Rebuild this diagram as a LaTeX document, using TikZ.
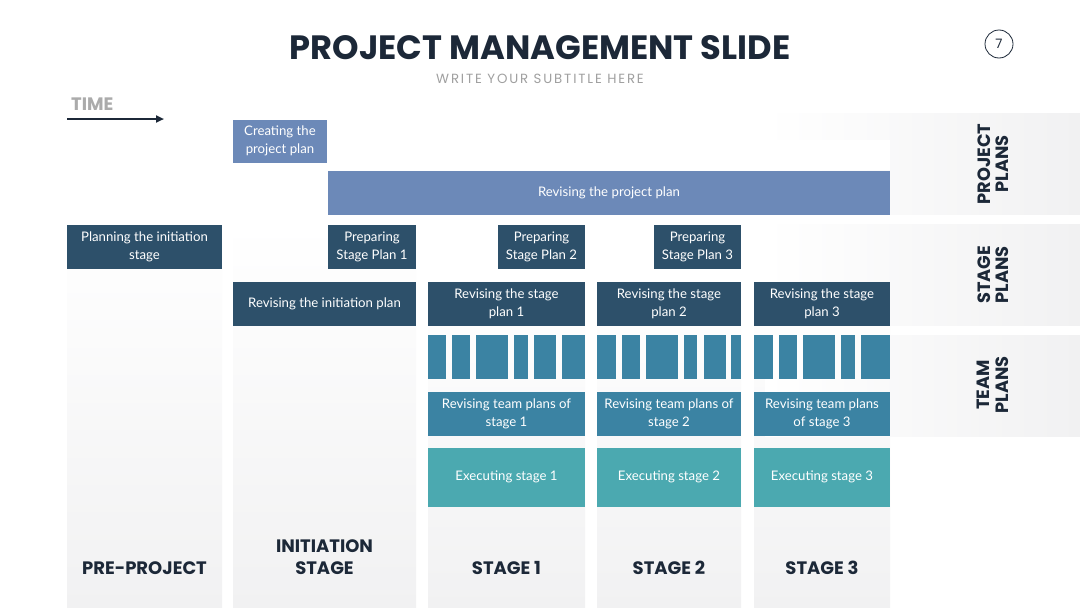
\documentclass[tikz,border=0pt]{standalone}
\usepackage{fontspec}
\setmainfont{Lato}
\newfontfamily\pop{Poppins}
\usetikzlibrary{arrows.meta}
\definecolor{projblue}{RGB}{108,137,184}
\definecolor{navy}{RGB}{45,80,106}
\definecolor{teamblue}{RGB}{59,131,163}
\definecolor{tealc}{RGB}{75,169,176}
\definecolor{titlec}{RGB}{28,40,56}
\definecolor{colbg}{RGB}{241,241,242}
\definecolor{subc}{RGB}{160,160,160}
\definecolor{timec}{RGB}{171,171,171}
\newcommand\bx[7]{\node[boxs,fill=#6,minimum width={#4-#2},minimum height={#5-#3}] (#1) at ({(#2+#4)/2},{(#3+#5)/2+0.8}) {#7};}
\begin{document}
\begin{tikzpicture}[x=1pt,y=-1pt,
  boxs/.style={rectangle,inner sep=0pt,text=white,align=center,font=\fontsize{13.2}{18}\selectfont},
  collabel/.style={font=\pop\bfseries\fontsize{18}{22}\selectfont,text=titlec,align=center},
  rowlabel/.style={font=\pop\bfseries\fontsize{17.8}{18.5}\selectfont,text=titlec,align=center,rotate=90},
  bar/.style={fill=teamblue}]
\useasboundingbox[fill=white] (0,0) rectangle (1080,608);
% column backgrounds
\shade[top color=white,bottom color=colbg] (67,224) rectangle (222,608);
\shade[top color=white,bottom color=colbg] (233,224) rectangle (416,608);
\shade[top color=white,bottom color=colbg] (428,281) rectangle (585,608);
\shade[top color=white,bottom color=colbg] (597,281) rectangle (741,608);
\shade[top color=white,bottom color=colbg] (754,281) rectangle (890,608);
% row bands
\shade[left color=white,right color=colbg] (765,113) rectangle (1080,214);
\fill[white] (765,140) rectangle (890,170);
\shade[left color=white,right color=colbg] (765,224) rectangle (1080,325);
\shade[left color=white,right color=colbg] (765,335) rectangle (1080,436);
% title
\node[font=\pop\bfseries\fontsize{33.7}{38}\selectfont,text=titlec] (title) at (540,48) {PROJECT MANAGEMENT SLIDE};
\node[font=\pop\fontsize{13.3}{15}\selectfont\addfontfeature{LetterSpace=14},text=subc] (subtitle) at (540,79) {WRITE YOUR SUBTITLE HERE};
\node[circle,draw=titlec,line width=0.8pt,minimum size=28pt,inner sep=0pt,font=\pop\fontsize{13}{15}\selectfont,text=titlec] (page) at (999,44) {7};
% time
\node[anchor=west,inner sep=0pt,font=\pop\bfseries\fontsize{18}{20}\selectfont,text=timec] (time) at (71,104.5) {TIME};
\coordinate (ts) at (67,119);
\coordinate (te) at (164,119);
\draw[line width=2pt,color=titlec,-{Triangle[length=8pt,width=7pt]}] (ts) -- (te);
% project plan boxes
\bx{create}{233}{119}{327}{162}{projblue}{Creating the\\project plan}
\bx{revproj}{328}{170}{890}{214}{projblue}{Revising the project plan}
% stage plan boxes
\bx{planinit}{67}{224}{222}{268}{navy}{Planning the initiation\\stage}
\bx{prep1}{328}{224}{416}{268}{navy}{Preparing\\Stage Plan 1}
\bx{prep2}{498}{224}{585}{268}{navy}{Preparing\\Stage Plan 2}
\bx{prep3}{654}{224}{741}{268}{navy}{Preparing\\Stage Plan 3}
\bx{revinit}{233}{281}{416}{325}{navy}{Revising the initiation plan}
\bx{rev1}{428}{281}{585}{325}{navy}{Revising the stage\\plan 1}
\bx{rev2}{597}{281}{741}{325}{navy}{Revising the stage\\plan 2}
\bx{rev3}{754}{281}{890}{325}{navy}{Revising the stage\\plan 3}
% team bars
\foreach \a/\b in {428/445.7,451.7/470,476/507.7,514/528.3,533.7/556,562.3/584.7,
  597/615.7,621.7/640,646/677.7,683.7/697.3,703.7/726,731/741,
  754.3/772.7,778.7/797.3,803.3/835,841/854.7,860.7/890}
  \fill[bar] (\a,335) rectangle (\b,379.3);
\bx{team1}{428}{391}{585}{435}{teamblue}{Revising team plans of\\stage 1}
\bx{team2}{597}{391}{741}{435}{teamblue}{Revising team plans of\\stage 2}
\bx{team3}{754}{391}{890}{435}{teamblue}{Revising team plans\\of stage 3}
\bx{exec1}{428}{447}{585}{506}{tealc}{Executing stage 1}
\bx{exec2}{597}{447}{741}{506}{tealc}{Executing stage 2}
\bx{exec3}{754}{447}{890}{506}{tealc}{Executing stage 3}
% row labels
\node[rowlabel] (rproj) at (993,164) {PROJECT\\PLANS};
\node[rowlabel] (rstage) at (993,275) {STAGE\\PLANS};
\node[rowlabel] (rteam) at (993,385) {TEAM\\PLANS};
% column labels
\node[collabel] (cpre) at (144.5,568) {PRE-PROJECT};
\node[collabel,anchor=base] (cinit) at (324.5,574.5) {INITIATION\\STAGE};
\node[collabel] (cs1) at (506.5,568) {STAGE 1};
\node[collabel] (cs2) at (669,568) {STAGE 2};
\node[collabel] (cs3) at (822,568) {STAGE 3};
\end{tikzpicture}
\end{document}
